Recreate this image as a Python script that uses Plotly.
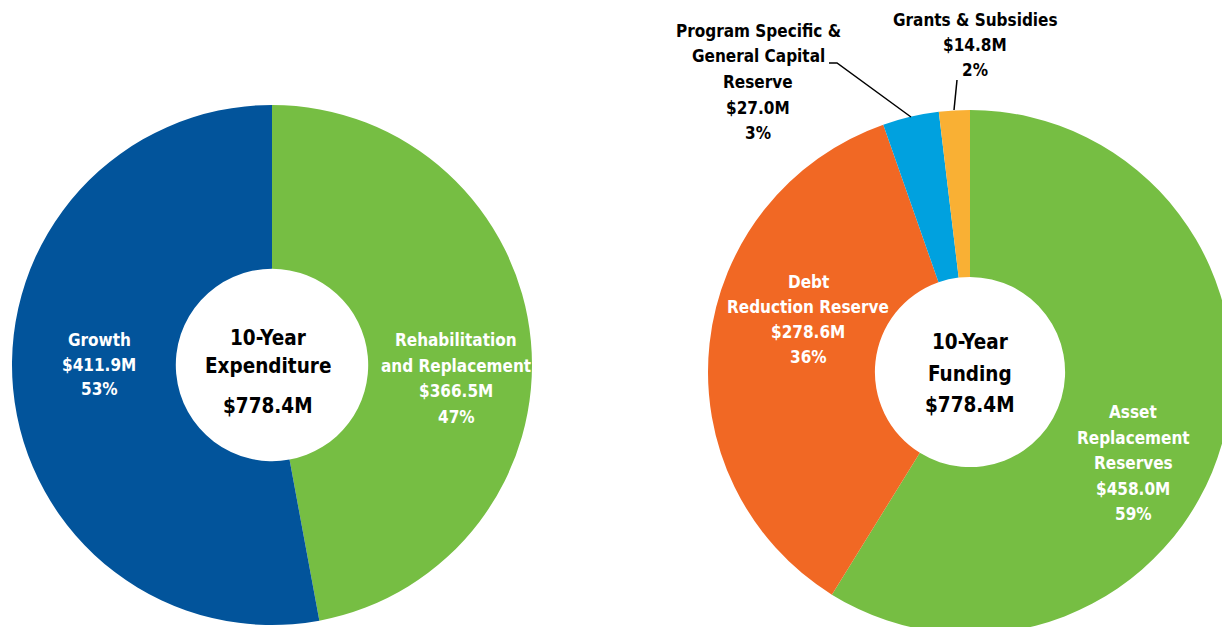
import plotly.graph_objects as go

# Expenditure breakdown (clockwise from 12 o'clock)
exp_labels = ["Rehabilitation<br>and Replacement", "Growth"]
exp_values = [366.5, 411.9]
exp_colors = ["#76BE43", "#02549B"]

# Funding sources (clockwise from 12 o'clock)
fund_labels = ["Asset<br>Replacement<br>Reserves", "Debt<br>Reduction Reserve",
               "Program Specific &<br>General Capital<br>Reserve", "Grants & Subsidies"]
fund_values = [458.0, 278.6, 27.0, 14.8]
fund_colors = ["#76BE43", "#F16824", "#00A1DF", "#F9B034"]

exp_total = sum(exp_values)
fund_total = sum(fund_values)

W, H = 1240, 640
FONT = "Liberation Sans Narrow, DejaVu Sans Condensed, Arial Narrow, sans-serif"


def px(x):
    return x / W


def py(y):
    return 1 - y / H


fig = go.Figure()

fig.add_trace(go.Pie(
    values=exp_values, labels=exp_labels, marker=dict(colors=exp_colors, line=dict(width=0)),
    hole=0.37, sort=False, direction="clockwise", rotation=0,
    textinfo="none", hoverinfo="skip", showlegend=False,
    domain=dict(x=[px(12), px(532)], y=[py(625), py(105)]),
))

fig.add_trace(go.Pie(
    values=fund_values, labels=fund_labels, marker=dict(colors=fund_colors, line=dict(width=0)),
    hole=0.363, sort=False, direction="clockwise", rotation=0,
    textinfo="none", hoverinfo="skip", showlegend=False,
    domain=dict(x=[px(708), px(1232)], y=[py(634), py(110)]),
))


def slice_lines(label, value, total):
    return label.split("<br>") + [f"${value:.1f}M", f"{round(100 * value / total)}%"]


annotations = []


def add_block(lines, x, y_first, step, color, size=17):
    """Stack one annotation per text line, centred on x, starting at y_first."""
    for i, line in enumerate(lines):
        annotations.append(dict(
            text=f"<b>{line}</b>", x=px(x), y=py(y_first + i * step),
            xref="paper", yref="paper", showarrow=False,
            xanchor="center", yanchor="middle", align="center",
            font=dict(family=FONT, size=size, color=color),
        ))


# Expenditure labels
add_block(slice_lines(exp_labels[1], exp_values[1], exp_total), 99, 340, 24.5, "white")
add_block(slice_lines(exp_labels[0], exp_values[0], exp_total), 456, 340, 25.5, "white")
add_block(["10-Year", "Expenditure"], 268, 338, 28, "black", 20.5)
add_block([f"${exp_total:.1f}M"], 268, 406, 0, "black", 20.5)

# Funding labels
add_block(slice_lines(fund_labels[0], fund_values[0], fund_total), 1133, 412, 25.5, "white")
add_block(slice_lines(fund_labels[1], fund_values[1], fund_total), 808, 282, 25, "white")
add_block(slice_lines(fund_labels[2], fund_values[2], fund_total), 758, 31, 25.5, "black")
add_block(slice_lines(fund_labels[3], fund_values[3], fund_total), 975, 20, 25, "black")
add_block(["10-Year", "Funding", f"${fund_total:.1f}M"], 970, 342, 31.5, "black", 20.5)

# Leader lines for the two small funding slices
shapes = [
    dict(type="path", xref="paper", yref="paper",
         path=f"M {px(829)} {py(63)} L {px(837)} {py(63)} L {px(911)} {py(117)}",
         line=dict(color="black", width=1.5)),
    dict(type="line", xref="paper", yref="paper",
         x0=px(957), y0=py(80), x1=px(954), y1=py(110),
         line=dict(color="black", width=1.5)),
]

fig.update_layout(
    width=W, height=H,
    margin=dict(l=0, r=0, t=0, b=0),
    paper_bgcolor="white", plot_bgcolor="white",
    annotations=annotations, shapes=shapes,
)

fig.write_html(
    "out.html",
    post_script="document.documentElement.style.overflow='hidden';"
                "document.body.style.overflow='hidden';document.body.style.margin='0';",
)
